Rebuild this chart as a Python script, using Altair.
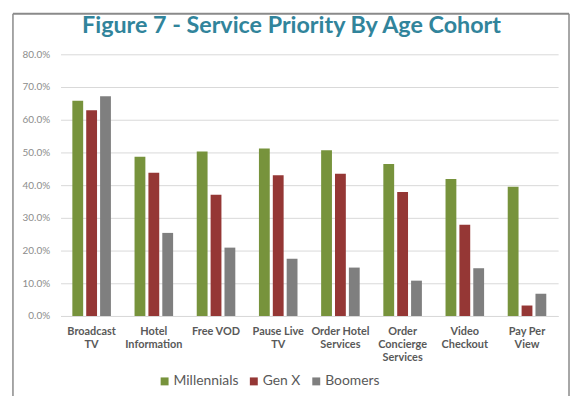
import altair as alt
import pandas as pd

categories = ["Broadcast\nTV", "Hotel\nInformation", "Free VOD", "Pause Live\nTV",
              "Order Hotel\nServices", "Order\nConcierge\nServices", "Video\nCheckout", "Pay Per\nView"]
cohorts = ["Millennials", "Gen X", "Boomers"]
millennials = [65.8, 48.7, 50.3, 51.2, 50.7, 46.5, 41.9, 39.5]
gen_x = [62.9, 43.8, 37.1, 43.0, 43.5, 37.9, 27.9, 3.2]
boomers = [67.2, 25.4, 20.9, 17.5, 14.8, 10.8, 14.6, 6.8]
colors = ["#77933C", "#953735", "#7F7F7F"]
y_ticks = [0, 0.1, 0.2, 0.3, 0.4, 0.5, 0.6, 0.7, 0.8]

rows = []
for series, name in zip([millennials, gen_x, boomers], cohorts):
    for c, v in zip(categories, series):
        rows.append({"Service": c, "Cohort": name, "Value": v / 100})
df = pd.DataFrame(rows)

FONT = "Lato"

bars = alt.Chart(df).mark_bar().encode(
    x=alt.X("Service:N", sort=categories, title=None,
            scale=alt.Scale(paddingInner=0.38, paddingOuter=0.19),
            axis=alt.Axis(labelAngle=0, labelExpr="split(datum.label, '\\n')",
                          labelFont=FONT, labelFontSize=11, labelFontWeight="bold",
                          labelColor="#595959", labelPadding=10, labelLineHeight=13,
                          ticks=False, domainColor="#d9d9d9", domainWidth=1,
                          labelBaseline="top")),
    xOffset=alt.XOffset("Cohort:N", sort=cohorts,
                        scale=alt.Scale(paddingInner=0.22)),
    y=alt.Y("Value:Q", title=None,
            scale=alt.Scale(domain=[0, 0.8], nice=False),
            axis=alt.Axis(format=".1%", values=y_ticks, labelFont=FONT,
                          labelFontSize=10, labelColor="#8c8c8c", labelPadding=11,
                          ticks=False, domain=False, gridColor="#d9d9d9")),
    color=alt.Color("Cohort:N", sort=cohorts,
                    scale=alt.Scale(domain=cohorts, range=colors),
                    legend=alt.Legend(title=None, orient="none", direction="horizontal",
                                      legendX=98, legendY=323, symbolType="square",
                                      symbolSize=64, symbolStrokeWidth=0,
                                      labelFont=FONT, labelFontSize=14,
                                      labelColor="#595959", columnPadding=8,
                                      labelOffset=2)),
)

frame = pd.DataFrame({"a": [0]})
left_line = alt.Chart(frame).mark_rule(stroke="#8a8a8a", strokeWidth=1.5, clip=False).encode(
    x=alt.value(-48), y=alt.value(-41), y2=alt.value(400))
right_line = alt.Chart(frame).mark_rule(stroke="#8a8a8a", strokeWidth=1.5, clip=False).encode(
    x=alt.value(513), y=alt.value(-41), y2=alt.value(400))
top_line = alt.Chart(frame).mark_rule(stroke="#8a8a8a", strokeWidth=2, clip=False).encode(
    x=alt.value(-48), x2=alt.value(513), y=alt.value(-41))

chart = alt.layer(left_line, right_line, top_line, bars).properties(
    width=502, height=264,
    padding={"left": 53, "top": 45, "right": 12, "bottom": 79},
    autosize=alt.AutoSizeParams(type="none"),
    title=alt.TitleParams("Figure 7 - Service Priority By Age Cohort",
                          font=FONT, fontSize=23.5, fontWeight="bold",
                          color="#31849B", anchor="middle", dx=-18, dy=44,
                          offset=0, baseline="alphabetic"),
).configure_view(stroke=None)

chart.save("out.html", embed_options={"renderer": "svg", "actions": False})
